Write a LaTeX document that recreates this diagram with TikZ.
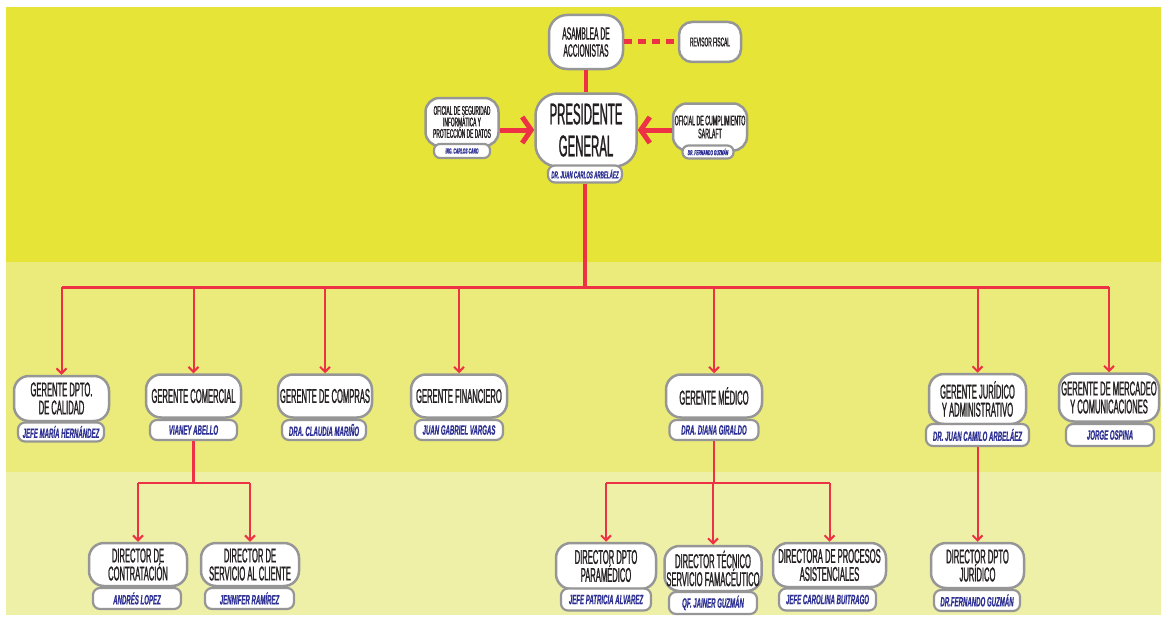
\documentclass[tikz,border=0pt]{standalone}
\usepackage{fontspec}
\setmainfont{Liberation Sans}
\newfontfamily\tfont{Liberation Sans}[FakeStretch=0.38, FakeBold=1]
\newfontfamily\nfont{Liberation Sans}[FakeStretch=0.45, FakeBold=0.6]
\newcommand\tfs[2]{\tfont\fontsize{#1}{#2}\selectfont}
\newcommand\nfs[1]{\nfont\bfseries\itshape\fontsize{#1}{#1}\selectfont}
\usetikzlibrary{arrows.meta}
\definecolor{bandA}{RGB}{230,229,55}
\definecolor{bandB}{RGB}{234,235,122}
\definecolor{bandC}{RGB}{239,240,168}
\definecolor{redc}{RGB}{238,50,70}
\definecolor{boxgray}{RGB}{150,150,150}
\definecolor{titlec}{RGB}{35,31,32}
\definecolor{namec}{RGB}{46,49,146}
\tikzset{
  tbox/.style={draw=boxgray, line width=2.5pt, fill=white, rounded corners=15pt,
    align=center, inner sep=0pt, text=titlec, font=\tfs{20}{18}},
  nbox/.style={draw=boxgray, line width=2.2pt, fill=white, rounded corners=7pt,
    align=center, inner sep=0pt, text=namec, font=\nfs{13.5}},
  mainline/.style={draw=redc, line width=4pt},
  busline/.style={draw=redc, line width=3pt},
  subline/.style={draw=redc, line width=2.5pt},
  drop/.style={draw=redc, line width=2pt, -{Straight Barb[length=5pt,width=10pt]}},
  bigarr/.style={draw=redc, line width=5pt, -{Straight Barb[length=9pt,width=26pt]}},
  dashl/.style={draw=redc, line width=5pt, dash pattern=on 8pt off 6pt},
}
\begin{document}
\begin{tikzpicture}[x=1pt, y=-1pt]
\useasboundingbox (0,0) rectangle (1161,618);
% bands
\fill[bandA] (6,7) rectangle (1161,262);
\fill[bandB] (6,262) rectangle (1161,472);
\fill[bandC] (6,472) rectangle (1161,615);

\coordinate (busy) at (0,287);
\coordinate (suby) at (0,483);

% top
\node[tbox, minimum width=74pt, minimum height=54pt, rounded corners=18pt, font=\tfs{17.7}{17}] (asam) at (586,42) {ASAMBLEA DE\\ACCIONISTAS};
\node[tbox, minimum width=62pt, minimum height=40pt, rounded corners=13pt, font=\tfs{12.7}{12}] (rev) at (710,42) {REVISOR FISCAL};
\node[tbox, minimum width=101pt, minimum height=73pt, rounded corners=22pt, font=\tfs{30}{32}] (pres) at (586,130) {PRESIDENTE\\GENERAL};
\node[nbox, minimum width=74pt, minimum height=17pt, font=\nfs{10}] (presN) at (585,174) {DR. JUAN CARLOS ARBELÁEZ};
\node[tbox, minimum width=73pt, minimum height=48pt, rounded corners=14pt, font=\tfs{12.7}{11.5}] (ofs) at (462,122) {OFICIAL DE SEGURIDAD\\INFORMÁTICA Y\\PROTECCIÓN DE DATOS};
\node[nbox, minimum width=56pt, minimum height=14pt, rounded corners=6pt, font=\nfs{7.5}] (ofsN) at (462,151) {ING. CARLOS CANO};
\node[tbox, minimum width=74pt, minimum height=47pt, rounded corners=14pt, font=\tfs{13.8}{13}] (ofc) at (710,127) {OFICIAL DE CUMPLIMIENTO\\SARLAFT};
\node[nbox, minimum width=51pt, minimum height=13pt, rounded corners=6pt, font=\nfs{7.3}] (ofcN) at (708,152) {DR. FERNANDO GUZMÁN};

% row 2
\node[tbox, minimum width=95pt, minimum height=45pt] (gcal) at (61.5,398.5) {GERENTE DPTO.\\DE CALIDAD};
\node[nbox, minimum width=86pt, minimum height=19pt] (gcalN) at (61,432) {JEFE MARÍA HERNÁNDEZ};
\node[tbox, minimum width=95pt, minimum height=43pt] (gcom) at (193.5,396) {GERENTE COMERCIAL};
\node[nbox, minimum width=87pt, minimum height=20pt] (gcomN) at (193.5,430) {VIANEY ABELLO};
\node[tbox, minimum width=94pt, minimum height=43pt] (gcomp) at (325,396) {GERENTE DE COMPRAS};
\node[nbox, minimum width=84pt, minimum height=20pt] (gcompN) at (324,430) {DRA. CLAUDIA MARIÑO};
\node[tbox, minimum width=96pt, minimum height=43pt] (gfin) at (459,396) {GERENTE FINANCIERO};
\node[nbox, minimum width=88pt, minimum height=20pt] (gfinN) at (459,430) {JUAN GABRIEL VARGAS};
\node[tbox, minimum width=96pt, minimum height=43pt] (gmed) at (714,396) {GERENTE MÉDICO};
\node[nbox, minimum width=89pt, minimum height=20pt] (gmedN) at (714,430) {DRA. DIANA GIRALDO};
\node[tbox, minimum width=97pt, minimum height=50pt] (gjur) at (977.5,399) {GERENTE JURÍDICO\\Y ADMINISTRATIVO};
\node[nbox, minimum width=103pt, minimum height=22pt] (gjurN) at (977.5,435) {DR. JUAN CAMILO ARBELÁEZ};
\node[tbox, minimum width=100pt, minimum height=48pt] (gmer) at (1109,397.5) {GERENTE DE MERCADEO\\Y COMUNICACIONES};
\node[nbox, minimum width=88pt, minimum height=22pt] (gmerN) at (1110,435) {JORGE OSPINA};

% row 3
\node[tbox, minimum width=98pt, minimum height=43pt] (dcon) at (138,564.5) {DIRECTOR DE\\CONTRATACIÓN};
\node[nbox, minimum width=88pt, minimum height=21pt] (dconN) at (137,598.5) {ANDRÉS LOPEZ};
\node[tbox, minimum width=98pt, minimum height=43pt] (dser) at (250,564.5) {DIRECTOR DE\\SERVICIO AL CLIENTE};
\node[nbox, minimum width=89pt, minimum height=21pt] (dserN) at (249.5,598.5) {JENNIFER RAMÍREZ};
\node[tbox, minimum width=100pt, minimum height=46pt] (dpar) at (606,566) {DIRECTOR DPTO\\PARAMÉDICO};
\node[nbox, minimum width=90pt, minimum height=22pt] (dparN) at (606,599.5) {JEFE PATRICIA ALVAREZ};
\node[tbox, minimum width=97pt, minimum height=45pt] (dtec) at (713,568.5) {DIRECTOR TÉCNICO\\SERVICIO FAMACÉUTICO};
\node[nbox, minimum width=88pt, minimum height=22pt] (dtecN) at (713,603) {QF. JAINER GUZMÁN};
\node[tbox, minimum width=113pt, minimum height=44pt] (dpro) at (829.5,565) {DIRECTORA DE PROCESOS\\ASISTENCIALES};
\node[nbox, minimum width=97pt, minimum height=22pt] (dproN) at (827.5,599.5) {JEFE CAROLINA BUITRAGO};
\node[tbox, minimum width=93pt, minimum height=45pt] (djur) at (977.5,565.5) {DIRECTOR DPTO\\JURÍDICO};
\node[nbox, minimum width=86pt, minimum height=21pt] (djurN) at (977,600.5) {DR.FERNANDO GUZMÁN};

% top connectors
\draw[mainline] (asam.south) -- (pres.north);
\draw[dashl] (asam.east) -- (rev.west);
\draw[bigarr] (ofs.east |- pres.west) -- (pres.west);
\draw[bigarr] (ofc.west |- pres.east) -- (pres.east);
\draw[mainline] (presN.south) -- (presN.south |- busy);

% main bus
\draw[busline] (busy -| gcal.north) -- (busy -| gmer.north);
\foreach \n in {gcal,gcom,gcomp,gfin,gmed,gjur,gmer}
  \draw[drop] (busy -| \n.north) -- (\n.north);

% commercial sub-tree
\draw[subline] (gcomN.south) -- (gcomN.south |- suby);
\draw[subline] (suby -| dcon.north) -- (suby -| dser.north);
\foreach \n in {dcon,dser}
  \draw[drop] (suby -| \n.north) -- (\n.north);

% medical sub-tree
\draw[subline] (gmedN.south) -- (gmedN.south |- suby);
\draw[subline] (suby -| dpar.north) -- (suby -| dpro.north);
\foreach \n in {dpar,dtec,dpro}
  \draw[drop] (suby -| \n.north) -- (\n.north);

% legal
\draw[drop] (gjurN.south) -- (djur.north);
\end{tikzpicture}
\end{document}
